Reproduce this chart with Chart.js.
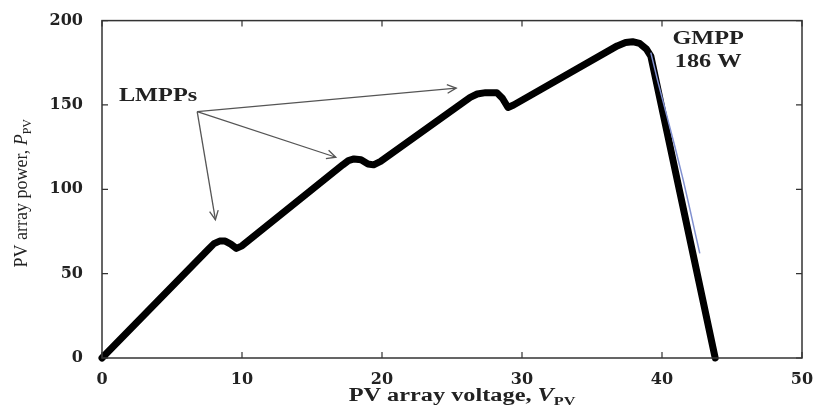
<!DOCTYPE html>
<html>
<head>
<meta charset="utf-8">
<script src="https://cdn.jsdelivr.net/npm/chart.js@4/dist/chart.umd.min.js"></script>
<style>
  html, body { margin: 0; padding: 0; background: #fff; }
  #wrap { width: 818px; height: 412px; }
</style>
</head>
<body>
<div id="wrap"><canvas id="pv-chart"></canvas></div>
<script>
// P-V curve under partial shading
var voltage = [0, 7.6, 8.0, 8.4, 8.8, 9.2, 9.6, 10.0,
               17.2, 17.6, 18.0, 18.5, 19.0, 19.4, 19.9,
               26.3, 26.8, 27.4, 28.2, 28.6, 29.0, 29.4,
               36.8, 37.4, 37.9, 38.4, 38.9, 39.2, 43.8];
var power   = [0, 64.5, 67.8, 69.3, 69.3, 67.5, 65, 66.5,
               114.5, 117, 118, 117.5, 115, 114.5, 116.5,
               154.5, 156.5, 157.3, 157.3, 154, 148.5, 150,
               185, 187, 187.5, 186.5, 183, 179, 0];

// thin trace next to the falling edge
var traceV = [39.2, 39.7, 40.3, 40.9, 41.5, 42.0, 42.4, 42.7];
var traceP = [181, 164, 145, 126, 106, 88, 73, 62];

var xTicks = [0, 10, 20, 30, 40, 50];
var yTicks = [0, 50, 100, 150, 200];

// LMPP arrows: from label to each local peak
var arrowFrom = [6.8, 146];
var arrowTo = [[8.1, 82], [16.7, 119], [25.3, 160]];

var serif = '"Liberation Serif", "DejaVu Serif", serif';
var stretch = 1.35;

function toPoints(xs, ys) {
  var out = [];
  for (var i = 0; i < xs.length; i++) out.push({x: xs[i], y: ys[i]});
  return out;
}

// text squeezed wider like the scanned figure
function wideText(c, parts, x, y, align) {
  var total = 0;
  parts.forEach(function(p) { c.font = p.font; p.w = c.measureText(p.text).width; total += p.w; });
  var start = align === 'center' ? -total / 2 : (align === 'right' ? -total : 0);
  c.save();
  c.translate(x, y);
  c.scale(stretch, 1);
  c.textAlign = 'left';
  var cx = start;
  parts.forEach(function(p) {
    c.font = p.font;
    c.fillText(p.text, cx, p.dy || 0);
    cx += p.w;
  });
  c.restore();
}

var extras = {
  id: 'extras',
  afterDraw: function(chart) {
    var c = chart.ctx, a = chart.chartArea;
    var xs = chart.scales.x, ys = chart.scales.y;
    c.save();

    // frame
    c.strokeStyle = '#333';
    c.lineWidth = 1.5;
    c.strokeRect(a.left, a.top, a.right - a.left, a.bottom - a.top);

    // inward ticks on all sides
    c.lineWidth = 1.2;
    xTicks.forEach(function(v) {
      var px = xs.getPixelForValue(v);
      c.beginPath();
      c.moveTo(px, a.bottom); c.lineTo(px, a.bottom - 6);
      c.moveTo(px, a.top); c.lineTo(px, a.top + 6);
      c.stroke();
    });
    yTicks.forEach(function(v) {
      var py = ys.getPixelForValue(v);
      c.beginPath();
      c.moveTo(a.left, py); c.lineTo(a.left + 6, py);
      c.moveTo(a.right, py); c.lineTo(a.right - 6, py);
      c.stroke();
    });

    // arrows
    var fx = xs.getPixelForValue(arrowFrom[0]), fy = ys.getPixelForValue(arrowFrom[1]);
    c.strokeStyle = '#555';
    c.lineWidth = 1.3;
    arrowTo.forEach(function(t) {
      var tx = xs.getPixelForValue(t[0]), ty = ys.getPixelForValue(t[1]);
      c.beginPath(); c.moveTo(fx, fy); c.lineTo(tx, ty); c.stroke();
      var ang = Math.atan2(ty - fy, tx - fx), h = 10;
      c.beginPath();
      c.moveTo(tx - h * Math.cos(ang - 0.45), ty - h * Math.sin(ang - 0.45));
      c.lineTo(tx, ty);
      c.lineTo(tx - h * Math.cos(ang + 0.45), ty - h * Math.sin(ang + 0.45));
      c.stroke();
    });

    // labels
    c.fillStyle = '#222';
    c.textBaseline = 'middle';
    var b18 = 'bold 18px ' + serif;
    wideText(c, [{text: 'LMPPs', font: b18}], fx, ys.getPixelForValue(155), 'right');
    wideText(c, [{text: 'GMPP', font: b18}], xs.getPixelForValue(43.3), ys.getPixelForValue(189), 'center');
    wideText(c, [{text: '186 W', font: b18}], xs.getPixelForValue(43.3), ys.getPixelForValue(175), 'center');

    // x axis title with subscript
    c.textBaseline = 'alphabetic';
    wideText(c, [
      {text: 'PV array voltage, ', font: 'bold 18px ' + serif},
      {text: 'V', font: 'bold italic 18px ' + serif},
      {text: 'PV', font: 'bold 12px ' + serif, dy: 4}
    ], 462, 401, 'center');

    // y axis title, rotated
    c.save();
    c.translate(27, (a.top + a.bottom) / 2 + 4);
    c.rotate(-Math.PI / 2);
    var parts = [
      {text: 'PV array power, ', font: '18px ' + serif},
      {text: 'P', font: 'italic 18px ' + serif},
      {text: 'PV', font: '12px ' + serif, dy: 4}
    ];
    var total = 0;
    parts.forEach(function(p) { c.font = p.font; p.w = c.measureText(p.text).width; total += p.w; });
    var sx = -total / 2;
    parts.forEach(function(p) { c.font = p.font; c.fillText(p.text, sx, p.dy || 0); sx += p.w; });
    c.restore();

    c.restore();
  }
};

var ctx = document.getElementById('pv-chart').getContext('2d');
var chart = new Chart(ctx, {
  type: 'scatter',
  data: {
    datasets: [{
      label: 'trace',
      data: toPoints(traceV, traceP),
      showLine: true,
      borderColor: '#8090d0',
      borderWidth: 1.5,
      pointRadius: 0
    }, {
      label: 'P-V',
      data: toPoints(voltage, power),
      showLine: true,
      borderColor: '#000',
      borderWidth: 7,
      borderJoinStyle: 'round',
      borderCapStyle: 'round',
      pointRadius: 0,
      clip: 6
    }]
  },
  plugins: [extras],
  options: {
    responsive: true,
    maintainAspectRatio: false,
    animation: false,
    layout: { padding: { top: 17, right: 16, left: 0, bottom: 0 } },
    plugins: { legend: { display: false }, tooltip: { enabled: false } },
    scales: {
      x: {
        type: 'linear', min: 0, max: 50,
        afterFit: function(s) { s.height = 54; },
        afterBuildTicks: function(s) { s.ticks = xTicks.map(function(v) { return {value: v}; }); },
        grid: { display: false },
        border: { display: false },
        ticks: { color: '#222', padding: 4, font: { family: '"DejaVu Serif", serif', size: 16, weight: 'bold' } }
      },
      y: {
        type: 'linear', min: 0, max: 200,
        afterFit: function(s) { s.width = 102; },
        afterBuildTicks: function(s) { s.ticks = yTicks.map(function(v) { return {value: v}; }); },
        grid: { display: false },
        border: { display: false },
        ticks: { color: '#222', padding: 11, font: { family: '"DejaVu Serif", serif', size: 16, weight: 'bold' } }
      }
    }
  }
});
</script>
</body>
</html>
